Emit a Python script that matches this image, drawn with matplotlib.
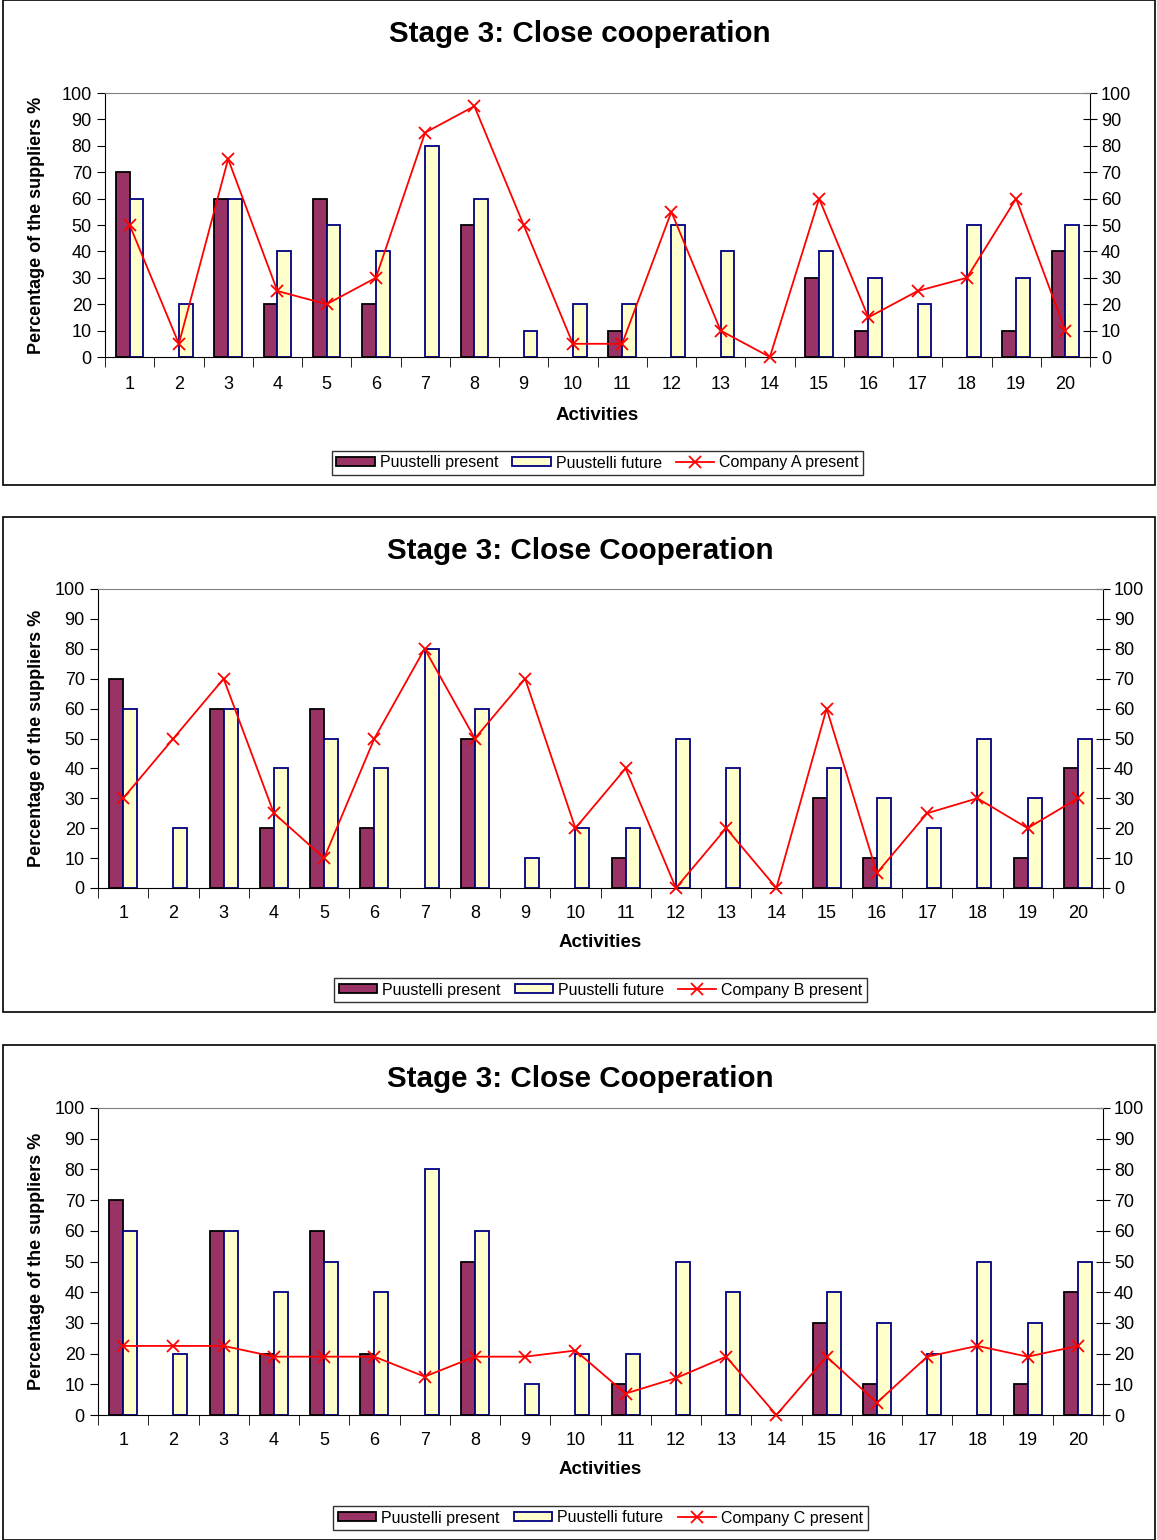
import numpy as np
import matplotlib
matplotlib.use('Agg')
import matplotlib.pyplot as plt
from matplotlib.patches import Rectangle

plt.rcParams['font.family'] = ['Liberation Sans', 'DejaVu Sans']

activities = [str(i) for i in range(1, 21)]
puustelli_present = [70, 0, 60, 20, 60, 20, 0, 50, 0, 0, 10, 0, 0, 0, 30, 10, 0, 0, 10, 40]
puustelli_future = [60, 20, 60, 40, 50, 40, 80, 60, 10, 20, 20, 50, 40, 0, 40, 30, 20, 50, 30, 50]
company_a = [50, 5, 75, 25, 20, 30, 85, 95, 50, 5, 5, 55, 10, 0, 60, 15, 25, 30, 60, 10]
company_b = [30, 50, 70, 25, 10, 50, 80, 50, 70, 20, 40, 0, 20, 0, 60, 5, 25, 30, 20, 30]
company_c = [22.5, 22.5, 22.5, 19, 19, 19, 12.5, 19, 19, 21, 7, 12, 19, 0, 19, 4, 19, 22.5, 19, 22.5]

titles = ['Stage 3: Close cooperation', 'Stage 3: Close Cooperation', 'Stage 3: Close Cooperation']
line_names = ['Company A present', 'Company B present', 'Company C present']
lines = [company_a, company_b, company_c]

W, H = 1157, 1540
fig = plt.figure(figsize=(W / 100, H / 100), dpi=100)

# panel boxes (pixels: x0, y0, x1, y1) and axes rects
panels = [(3, 0, 1157, 485), (3, 517, 1157, 1012), (3, 1045, 1157, 1540)]
axes_px = [(105, 93, 1090, 357), (98, 589, 1103, 888), (98, 1108, 1103, 1415)]
tick_pads = [14, 12, 12]
xlabel_y = [415, 942, 1469]

def px(x0, y0, x1, y1):
    return [x0 / W, 1 - y1 / H, (x1 - x0) / W, (y1 - y0) / H]

for k in range(3):
    bx0, by0, bx1, by1 = panels[k]
    fig.patches.append(Rectangle((bx0 / W, 1 - by1 / H), (bx1 - bx0 - 2) / W, (by1 - by0) / H,
                                 transform=fig.transFigure, fill=False, edgecolor='black', lw=1.2))
    ax = fig.add_axes(px(*axes_px[k]))
    ind = np.arange(len(activities))
    width = 0.28
    pres = np.array(puustelli_present)
    fut = np.array(puustelli_future)
    m1 = pres > 0
    m2 = fut > 0
    b1 = ax.bar(ind[m1] - width / 2, pres[m1], width, color='#993366', edgecolor='black', lw=1.3)
    b2 = ax.bar(ind[m2] + width / 2, fut[m2], width, color='#FFFFCC', edgecolor='#000080', lw=1.3)
    l1, = ax.plot(ind, lines[k], color='red', lw=1.3, marker='x', ms=8, mew=1.3, clip_on=False, zorder=5)
    ax.set_xlim(-0.5, 19.5)
    ax.set_ylim(0, 100)
    ax.set_yticks(range(0, 101, 10))
    ax.set_xticks(ind)
    ax.set_xticklabels(activities, fontsize=13)
    ax.set_xticks(np.arange(-0.5, 20, 1), minor=True)
    ax.tick_params(axis='x', which='major', length=0, pad=tick_pads[k])
    ax.tick_params(axis='x', which='minor', length=7, direction='out')
    ax.tick_params(axis='y', labelsize=13, length=6, direction='out')
    sec = ax.secondary_yaxis('right')
    sec.set_yticks(range(0, 101, 10))
    sec.tick_params(labelsize=13, length=10, direction='inout', pad=3)
    sec.spines['right'].set_color('black')
    ax.spines['top'].set_color('#808080')
    for s in ['left', 'bottom']:
        ax.spines[s].set_color('black')
    ax.spines['right'].set_visible(False)
    ax.set_ylabel('Percentage of the suppliers %', fontsize=13, fontweight='bold')
    ax.yaxis.set_label_coords(45 / W, 1 - (axes_px[k][1] + axes_px[k][3]) / 2 / H, transform=fig.transFigure)
    ax_cx = (axes_px[k][0] + axes_px[k][2]) / 2 / W
    ax.set_xlabel('Activities', fontsize=13.5, fontweight='bold')
    ax.xaxis.set_label_coords(ax_cx, 1 - xlabel_y[k] / H, transform=fig.transFigure)
    ax.xaxis.label.set_va('center')
    cx = (bx0 + bx1) / 2 / W
    fig.text(cx, 1 - (by0 + 34) / H, titles[k], ha='center', va='center', fontsize=21.3, fontweight='bold')
    leg = ax.legend([b1, b2, l1], ['Puustelli present', 'Puustelli future', line_names[k]],
                    loc='center', bbox_to_anchor=(ax_cx, 1 - (by1 - 22) / H), bbox_transform=fig.transFigure,
                    ncol=3, fontsize=11.5, frameon=True, fancybox=False, edgecolor='black',
                    handlelength=2.4, handleheight=0.5, handletextpad=0.3, columnspacing=0.9, borderpad=0.3)
    leg.get_frame().set_linewidth(1.0)

fig.savefig('out.png', dpi=100)
